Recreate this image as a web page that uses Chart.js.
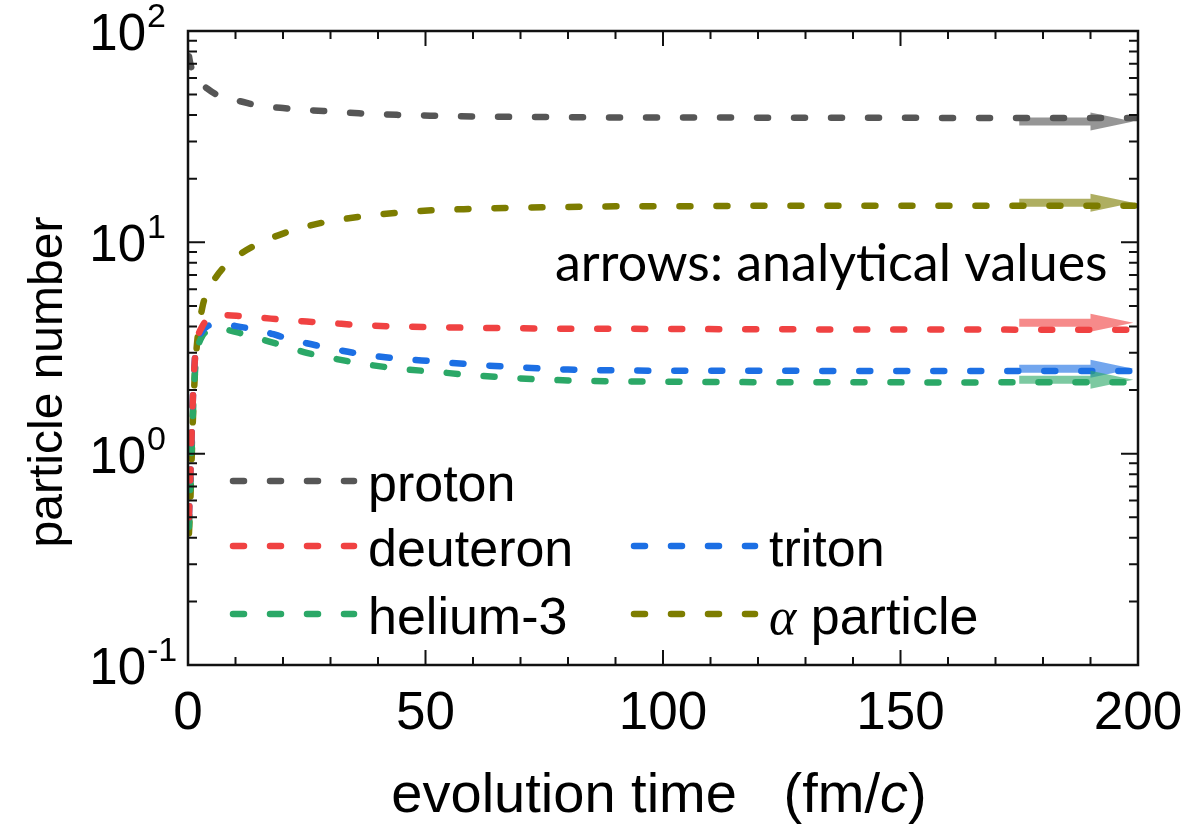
<!DOCTYPE html>
<html>
<head>
<meta charset="utf-8">
<script src="https://cdn.jsdelivr.net/npm/chart.js@4.4.1/dist/chart.umd.min.js"></script>
<style>
  html, body { margin: 0; padding: 0; background: #fff; }
  #chart { display: block; }
</style>
</head>
<body>
<canvas id="chart" width="1185" height="829"></canvas>
<script>
// evolution time (fm/c)
const time = [0.2, 0.5, 0.8, 1.1, 1.5, 2, 3, 4, 6, 8, 11, 15, 20, 25, 30, 36, 44, 52, 60, 70, 80, 90, 100, 120, 140, 160, 180, 200];

// particle numbers
const proton   = [76, 70, 66, 63, 61, 59, 56, 53.5, 50, 48, 46.5, 44.3, 43.2, 42.3, 41.6, 40.8, 40.1, 39.7, 39.4, 39.2, 39.1, 39.0, 39.0, 38.9, 38.9, 38.8, 38.8, 38.8];
const deuteron = [0.5, 0.8, 1.3, 2.0, 2.9, 3.5, 4.0, 4.3, 4.5, 4.52, 4.48, 4.41, 4.3, 4.22, 4.15, 4.06, 4.0, 3.97, 3.94, 3.92, 3.9, 3.9, 3.89, 3.88, 3.87, 3.87, 3.86, 3.86];
const triton   = [0.5, 0.8, 1.3, 2.0, 2.9, 3.4, 3.8, 4.0, 4.1, 4.08, 3.98, 3.84, 3.56, 3.33, 3.15, 2.97, 2.82, 2.73, 2.64, 2.56, 2.5, 2.48, 2.47, 2.47, 2.46, 2.46, 2.46, 2.46];
const helium3  = [0.45, 0.7, 1.1, 1.7, 2.5, 3.1, 3.6, 3.8, 3.9, 3.86, 3.72, 3.5, 3.25, 3.0, 2.84, 2.68, 2.53, 2.44, 2.35, 2.27, 2.22, 2.2, 2.19, 2.18, 2.18, 2.17, 2.18, 2.18];
const alpha    = [0.42, 0.6, 1.0, 1.6, 2.5, 3.5, 4.9, 5.8, 6.9, 7.8, 8.8, 9.9, 11.0, 11.9, 12.6, 13.2, 13.8, 14.2, 14.4, 14.6, 14.7, 14.8, 14.8, 14.9, 14.9, 14.9, 14.9, 14.9];

// analytical values, shown as arrows at the right edge
const analytical = { proton: 37.3, deuteron: 4.16, triton: 2.52, helium3: 2.24, alpha: 15.4 };
const arrowFrom = 175, arrowNeck = 190, arrowTip = 199;

const xTicks = [0, 50, 100, 150, 200];
const yTickExp = [-1, 0, 1, 2];

const SANS = "'Liberation Sans', Arial, sans-serif";

function series(label, values, color, key) {
  return {
    label: label,
    key: key,
    data: time.map((t, i) => ({ x: t, y: values[i] })),
    borderColor: color,
    borderWidth: 6.5,
    borderDash: [11, 26],
    borderCapStyle: 'round',
    fill: false,
    pointRadius: 0,
    cubicInterpolationMode: 'monotone'
  };
}

const datasets = [
  series('proton', proton, '#565656', 'proton'),
  series('deuteron', deuteron, '#f04242', 'deuteron'),
  series('triton', triton, '#1c6fe4', 'triton'),
  series('helium-3', helium3, '#2ba867', 'helium3'),
  series('α particle', alpha, '#7d7d00', 'alpha')
];

// legend slots: [dataset index, sample x start, row y]
const legendSlots = [
  [0, 233, 481],
  [1, 233, 546],
  [2, 634, 546],
  [3, 233, 614],
  [4, 634, 614]
];

function rgba(hex, a) {
  const n = parseInt(hex.slice(1), 16);
  return `rgba(${n >> 16},${(n >> 8) & 255},${n & 255},${a})`;
}

const framePlugin = {
  id: 'frame',
  afterDatasetsDraw(chart) {
    const { ctx, chartArea: a, scales: { x, y } } = chart;
    ctx.save();

    // analytical arrows
    chart.data.datasets.forEach(ds => {
      const v = analytical[ds.key];
      const py = y.getPixelForValue(v);
      const x0 = x.getPixelForValue(arrowFrom);
      const x1 = x.getPixelForValue(arrowNeck);
      const x2 = x.getPixelForValue(arrowTip);
      ctx.fillStyle = rgba(ds.borderColor, 0.62);
      ctx.beginPath();
      ctx.moveTo(x0, py - 4);
      ctx.lineTo(x1, py - 4);
      ctx.lineTo(x1, py - 9);
      ctx.lineTo(x2, py);
      ctx.lineTo(x1, py + 9);
      ctx.lineTo(x1, py + 4);
      ctx.lineTo(x0, py + 4);
      ctx.closePath();
      ctx.fill();
    });

    // frame
    ctx.strokeStyle = '#111';
    ctx.lineWidth = 2.5;
    ctx.strokeRect(a.left, a.top, a.right - a.left, a.bottom - a.top);

    // inward ticks on all four sides
    ctx.lineWidth = 2;
    ctx.beginPath();
    for (let v = 0; v <= 200; v += 10) {
      const px = x.getPixelForValue(v);
      const len = v % 50 === 0 ? 15 : 8;
      ctx.moveTo(px, a.bottom); ctx.lineTo(px, a.bottom - len);
      ctx.moveTo(px, a.top); ctx.lineTo(px, a.top + len);
    }
    for (let e = -1; e <= 1; e++) {
      for (let k = 1; k <= 9; k++) {
        const py = y.getPixelForValue(k * Math.pow(10, e));
        const len = k === 1 ? 17 : 9;
        ctx.moveTo(a.left, py); ctx.lineTo(a.left + len, py);
        ctx.moveTo(a.right, py); ctx.lineTo(a.right - len, py);
      }
    }
    const pTop = y.getPixelForValue(100);
    ctx.moveTo(a.left, pTop); ctx.lineTo(a.left + 17, pTop);
    ctx.moveTo(a.right, pTop); ctx.lineTo(a.right - 17, pTop);
    ctx.stroke();

    // y tick labels as powers of ten
    ctx.fillStyle = '#000';
    ctx.textBaseline = 'alphabetic';
    yTickExp.forEach(e => {
      const py = y.getPixelForValue(Math.pow(10, e));
      ctx.font = `51px ${SANS}`;
      ctx.textAlign = 'right';
      ctx.fillText('10', 146, py + 19);
      ctx.font = `34px ${SANS}`;
      ctx.textAlign = 'left';
      ctx.fillText(String(e), 147, py - 4);
    });

    // axis titles
    ctx.font = `48px ${SANS}`;
    ctx.textAlign = 'center';
    ctx.save();
    ctx.translate(62, (a.top + a.bottom) / 2 + 34);
    ctx.rotate(-Math.PI / 2);
    ctx.fillText('particle number', 0, 0);
    ctx.restore();

    const t1 = 'evolution time   (fm/', t2 = 'c', t3 = ')';
    const fs = 56;
    ctx.font = `${fs}px ${SANS}`;
    const w1 = ctx.measureText(t1).width, w3 = ctx.measureText(t3).width;
    ctx.font = `italic ${fs}px ${SANS}`;
    const w2 = ctx.measureText(t2).width;
    const tx = 659 - (w1 + w2 + w3) / 2;
    ctx.textAlign = 'left';
    ctx.font = `${fs}px ${SANS}`;
    ctx.fillText(t1, tx, 812);
    ctx.font = `italic ${fs}px ${SANS}`;
    ctx.fillText(t2, tx + w1, 812);
    ctx.font = `${fs}px ${SANS}`;
    ctx.fillText(t3, tx + w1 + w2, 812);

    // note
    ctx.font = "52px Lato, 'Open Sans', sans-serif";
    ctx.fillText('arrows: analytical values', 555, 281);

    // legend
    legendSlots.forEach(([i, sx, sy]) => {
      const ds = chart.data.datasets[i];
      ctx.strokeStyle = ds.borderColor;
      ctx.lineWidth = ds.borderWidth;
      ctx.lineCap = 'round';
      ctx.setLineDash(ds.borderDash);
      ctx.beginPath();
      ctx.moveTo(sx, sy);
      ctx.lineTo(sx + 121, sy);
      ctx.stroke();
      ctx.setLineDash([]);
      ctx.fillStyle = '#000';
      let lx = sx + 135;
      let text = ds.label;
      if (text.startsWith('α')) {
        ctx.font = "italic 52px 'Liberation Serif', serif";
        ctx.fillText('α', lx, sy + 20);
        lx += ctx.measureText('α').width;
        text = text.slice(1);
      }
      ctx.font = `52px ${SANS}`;
      ctx.fillText(text, lx, sy + 20);
    });

    ctx.restore();
  }
};

new Chart(document.getElementById('chart'), {
  type: 'line',
  data: { datasets: datasets },
  options: {
    responsive: false,
    animation: false,
    layout: { padding: { top: 31, right: 47, left: 0, bottom: 0 } },
    plugins: { legend: { display: false }, tooltip: { enabled: false } },
    scales: {
      x: {
        type: 'linear',
        min: 0,
        max: 200,
        border: { display: false },
        grid: { display: false, drawTicks: false },
        afterBuildTicks: s => { s.ticks = xTicks.map(v => ({ value: v })); },
        ticks: {
          padding: 18,
          color: '#000',
          font: { family: SANS, size: 53 },
          maxRotation: 0,
          autoSkip: false
        },
        afterFit: s => { s.height = 164; s.paddingLeft = 0; s.paddingRight = 0; }
      },
      y: {
        type: 'logarithmic',
        min: 0.1,
        max: 100,
        border: { display: false },
        grid: { display: false, drawTicks: false },
        ticks: { display: false },
        afterFit: s => { s.width = 188; s.paddingTop = 0; s.paddingBottom = 0; }
      }
    }
  },
  plugins: [framePlugin]
});
</script>
</body>
</html>
